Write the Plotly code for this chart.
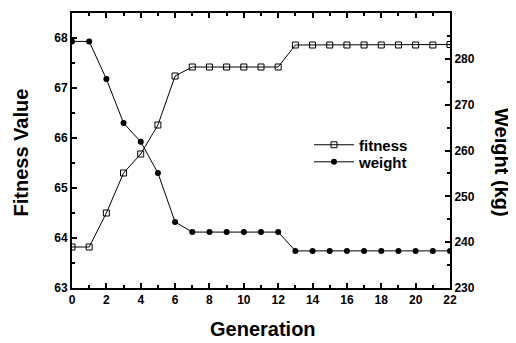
import plotly.graph_objects as go

generation = list(range(23))
fitness = [63.82, 63.82, 64.50, 65.30, 65.68, 66.26, 67.24, 67.42, 67.42, 67.42, 67.42, 67.42, 67.42,
           67.86, 67.86, 67.86, 67.86, 67.86, 67.86, 67.86, 67.86, 67.86, 67.87]
weight = [283.8, 283.8, 275.6, 266.0, 261.9, 255.1, 244.4, 242.2, 242.2, 242.2, 242.2, 242.2, 242.2,
          238.1, 238.1, 238.1, 238.1, 238.1, 238.1, 238.1, 238.1, 238.1, 238.1]

FONT = "Liberation Sans"
tf = dict(family=FONT, size=12, color="black", weight="bold")
title_font = dict(family=FONT, size=20, color="black", weight="bold")
legend_font = dict(family=FONT, size=15, color="black", weight="bold")

fig = go.Figure()
fig.add_trace(go.Scatter(x=generation, y=fitness, name="fitness", mode="lines+markers",
                         legend="legend",
                         line=dict(color="black", width=1),
                         marker=dict(symbol="square-open", size=6, color="black", line=dict(width=1))))
fig.add_trace(go.Scatter(x=generation, y=weight, name="weight", mode="lines+markers", yaxis="y2",
                         legend="legend2",
                         line=dict(color="black", width=1),
                         marker=dict(symbol="circle", size=6, color="black")))

axis_common = dict(showline=True, linecolor="black", linewidth=2, ticks="inside", ticklen=5,
                   tickwidth=1.5, tickcolor="black", showgrid=False, zeroline=False, tickfont=tf,
                   automargin=False)

legend_common = dict(xanchor="left", yanchor="middle", bgcolor="rgba(0,0,0,0)",
                     font=legend_font, itemwidth=40)

fig.update_layout(
    width=508, height=335,
    margin=dict(l=64, r=66, t=5, b=55),
    paper_bgcolor="white", plot_bgcolor="white",
    font=dict(family=FONT, color="black"),
    xaxis=dict(range=[0, 22], dtick=2, mirror="ticks",
               minor=dict(ticks="inside", dtick=1, ticklen=3, tickcolor="black"),
               **axis_common),
    yaxis=dict(range=[63, 68.5], dtick=1,
               minor=dict(ticks="inside", dtick=0.5, ticklen=3, tickcolor="black"),
               **axis_common),
    yaxis2=dict(range=[230, 290], dtick=10, overlaying="y", side="right",
                minor=dict(ticks="inside", dtick=5, ticklen=3, tickcolor="black"),
                **axis_common),
    legend=dict(x=0.627, y=0.52, **legend_common),
    legend2=dict(x=0.627, y=0.458, **legend_common),
    showlegend=True,
    annotations=[
        dict(text="Generation", xref="paper", yref="paper", x=0.505, y=-0.149,
             xanchor="center", yanchor="middle", showarrow=False, font=title_font),
        dict(text="Fitness Value", xref="paper", yref="paper", x=-0.1336, y=0.4945,
             xanchor="center", yanchor="middle", textangle=-90, showarrow=False, font=title_font),
        dict(text="Weight (kg)", xref="paper", yref="paper", x=1.1376, y=0.458,
             xanchor="center", yanchor="middle", textangle=90, showarrow=False, font=title_font),
    ],
)

fig.write_html("out.html")
